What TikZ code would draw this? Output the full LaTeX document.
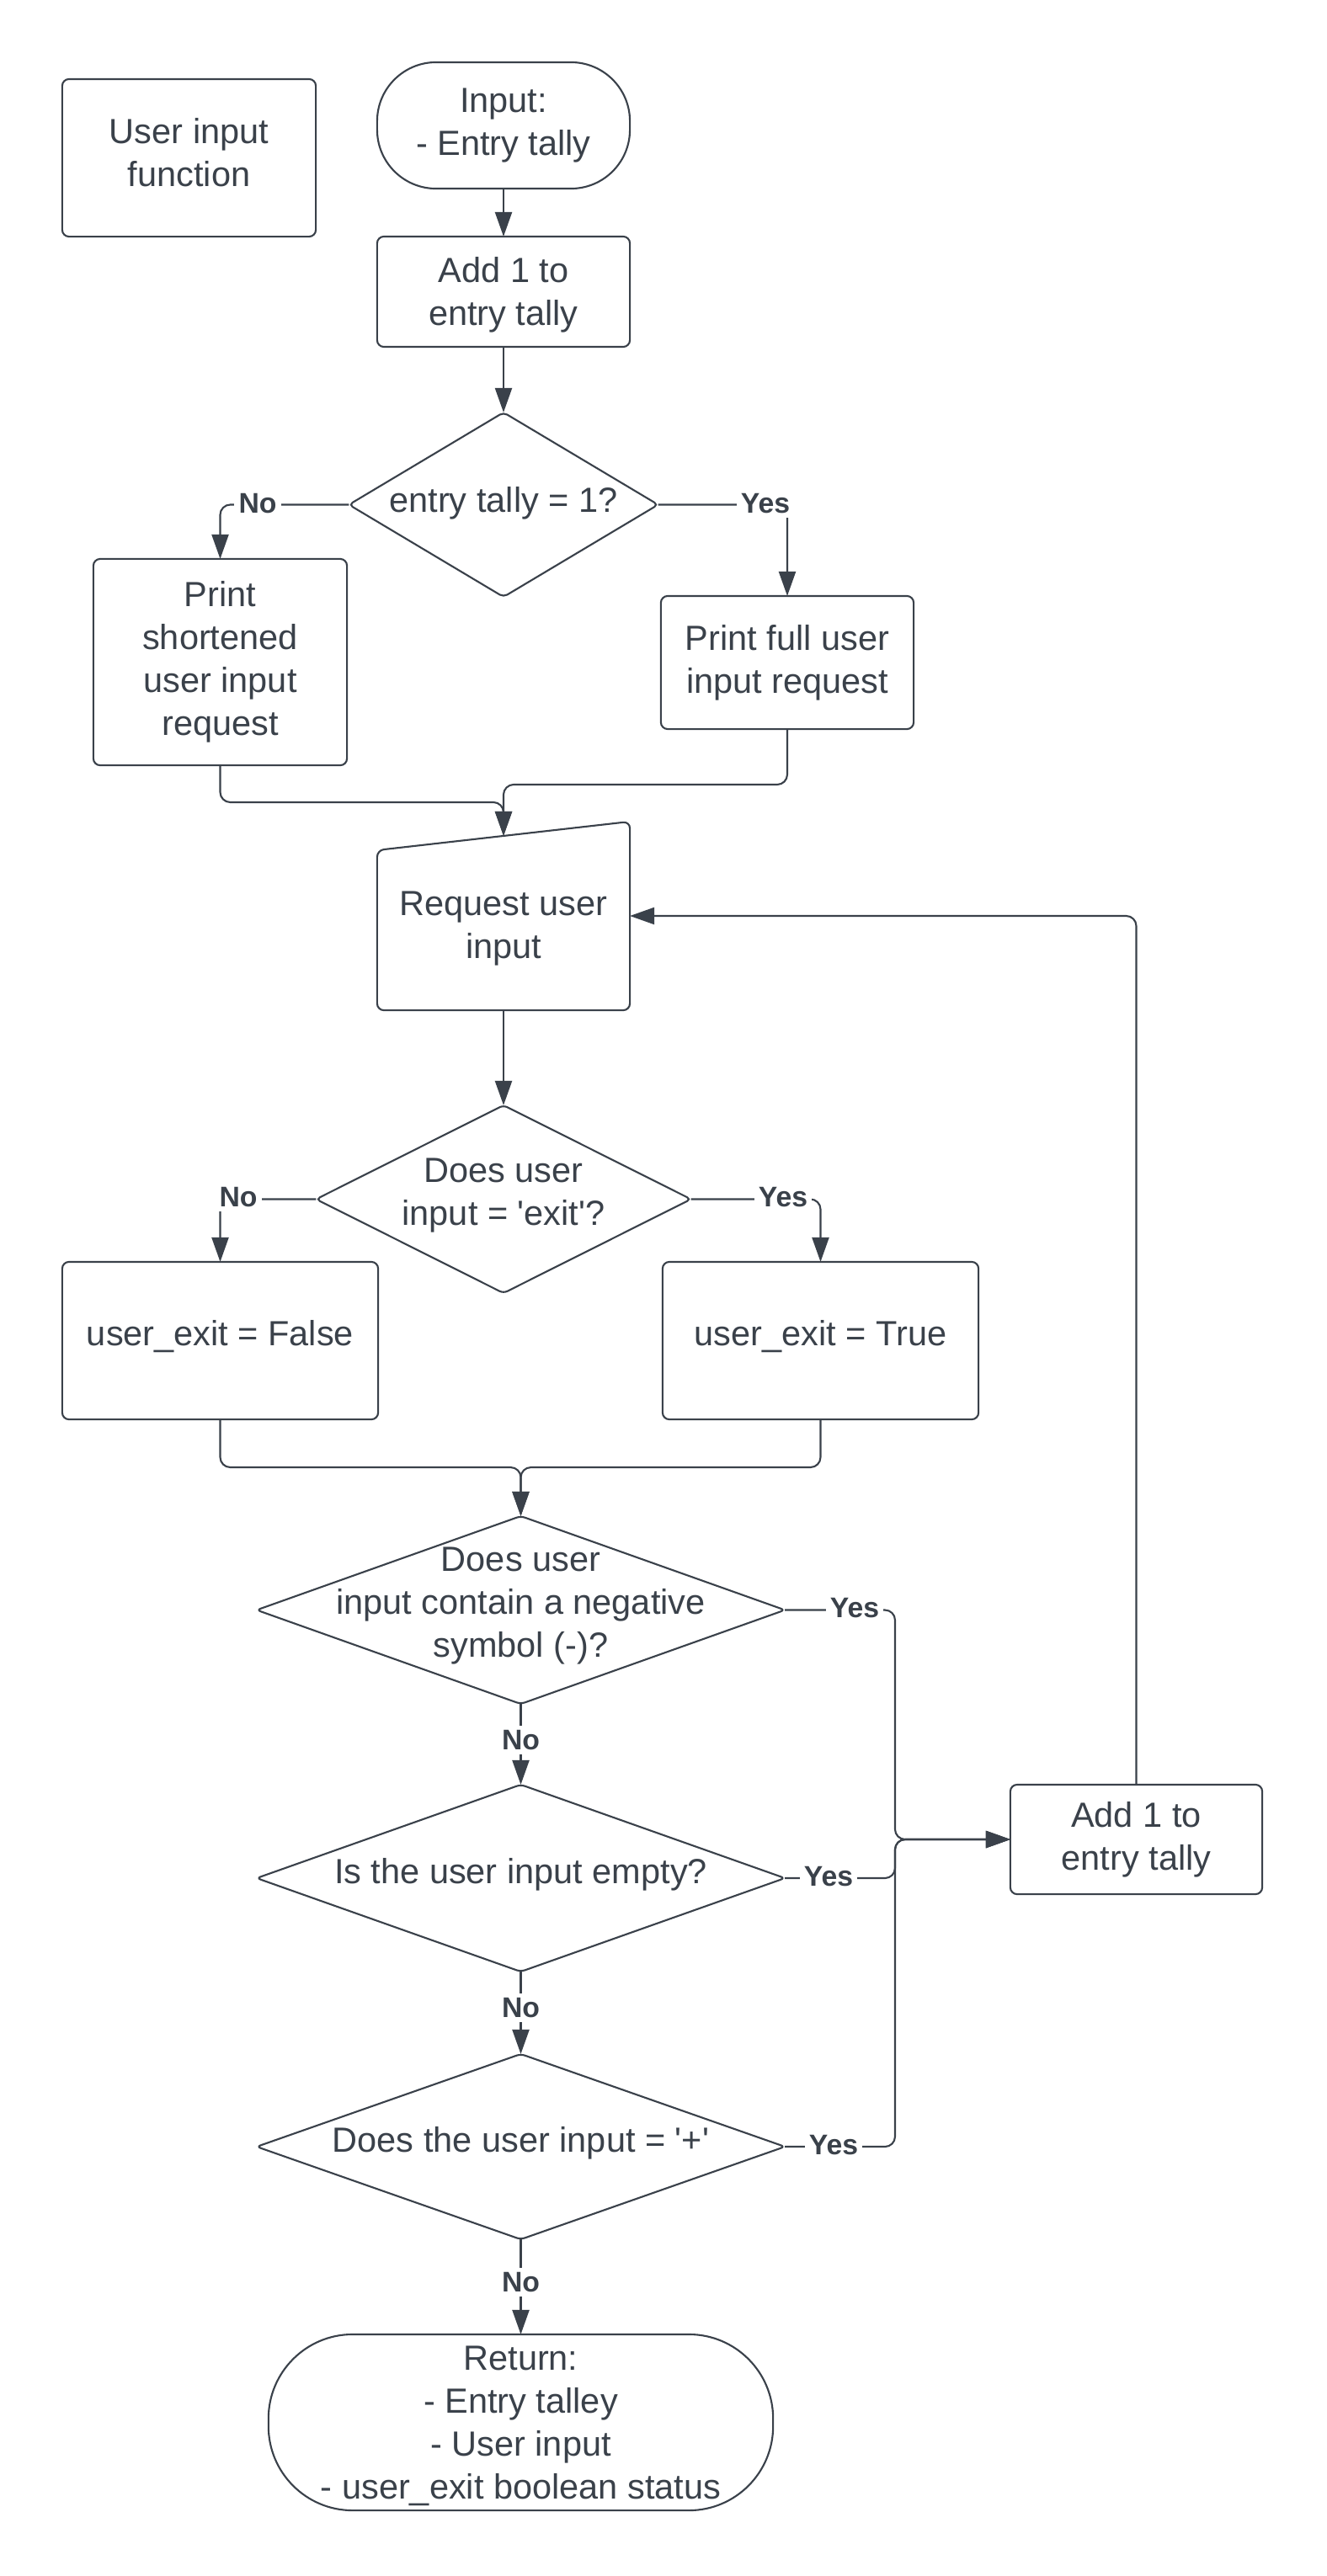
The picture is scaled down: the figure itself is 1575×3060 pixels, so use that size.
\documentclass[tikz,border=0pt]{standalone}
\usepackage{fontspec}
\setmainfont{Liberation Sans}
\usetikzlibrary{arrows.meta,shapes.geometric,calc}
\definecolor{ink}{RGB}{58,65,74}
\begin{document}
\begin{tikzpicture}[x=0.01cm,y=-0.01cm,
  every node/.style={text=ink, font=\fontsize{11.8pt}{14.5pt}\selectfont, align=center, inner sep=0pt, outer sep=0pt},
  box/.style={draw=ink, line width=0.6pt, rectangle, rounded corners=0.08cm},
  term/.style={draw=ink, line width=0.6pt, rectangle},
  dia/.style={draw=ink, line width=0.6pt, diamond, rounded corners=0.05cm},
  conn/.style={draw=ink, line width=0.6pt, rounded corners=0.12cm},
  arr/.style={conn, -{Triangle[length=0.29cm,width=0.2cm]}},
  lbl/.style={fill=white, font=\fontsize{9.6pt}{10pt}\selectfont\bfseries, inner sep=1.5pt}
]
\fill[white] (0,0) rectangle (1575,3060);
\useasboundingbox (0,0) rectangle (1575,3060);

% ---- shapes ----
\node[box, minimum width=3.01cm, minimum height=1.87cm] (title) at (224.5,187.5) {};
\node (ttitle) at (224.5,181) {User input\\function};
\node[term, rounded corners=0.7cm, minimum width=3.0cm, minimum height=1.5cm] (inp) at (598,149) {Input:\\- Entry tally};
\node[box, minimum width=3.0cm, minimum height=1.31cm] (add1) at (598,346.5) {};
\node (tadd1) at (598,350) {Add 1 to\\entry tally};
\node[dia, minimum width=3.67cm, minimum height=2.19cm] (d1) at (598,599.5) {};
\node (t1) at ($(d1)+(0,-2)$) {entry tally = 1?};
\node[box, minimum width=3.01cm, minimum height=2.45cm] (short) at (261.5,786.5) {Print\\shortened\\user input\\request};
\node[box, minimum width=3.0cm, minimum height=1.58cm] (full) at (935,787) {Print full user\\input request};

% manual input step
\node[minimum width=3.0cm, minimum height=2.24cm] (req) at (598,1088) {};
\draw[ink, line width=0.6pt, rounded corners=0.08cm]
  ($(req.south west)!0.5!(req.south east)$) -- (req.south east) -- (req.north east)
  -- ($(req.north west)+(0,34)$) -- (req.south west) -- cycle;
\node (treq) at (598,1103) {Request user\\input};
\coordinate (reqtop) at ($(req.north)+(0,17)$);

\node[dia, minimum width=4.45cm, minimum height=2.23cm] (d2) at (598,1424.5) {};
\node (t2) at ($(d2)+(0,-4)$) {Does user\\input = \textquotesingle{}exit\textquotesingle{}?};
\node[box, minimum width=3.75cm, minimum height=1.87cm] (false) at (261.5,1592.5) {};
\node (tfalse) at (261.5,1588) {user\_exit = False};
\node[box, minimum width=3.75cm, minimum height=1.87cm] (true) at (974.5,1592.5) {};
\node (ttrue) at (974.5,1588) {user\_exit = True};

\node[dia, minimum width=6.27cm, minimum height=2.23cm] (d3) at (618.5,1912.5) {};
\node (t3) at ($(d3)+(0,-5)$) {Does user\\input contain a negative\\symbol (-)?};
\node[dia, minimum width=6.27cm, minimum height=2.22cm] (d4) at (618.5,2231) {};
\node (t4) at ($(d4)+(0,-4)$) {Is the user input empty?};
\node[dia, minimum width=6.27cm, minimum height=2.2cm] (d5) at (618.5,2550) {};
\node (t5) at ($(d5)+(0,-4)$) {Does the user input = \textquotesingle{}+\textquotesingle{}};
\node[term, rounded corners=1.0cm, minimum width=5.99cm, minimum height=2.09cm] (ret) at (618.5,2877.5) {};
\node (tret) at (618.5,2882) {Return:\\- Entry talley\\- User input\\- user\_exit boolean status};
\node[box, minimum width=2.99cm, minimum height=1.30cm] (add2) at (1349.5,2185) {Add 1 to\\entry tally};

% ---- connectors ----
\coordinate (m1) at (598,953);
\coordinate (m2) at (598,932);
\coordinate (m3) at (618.5,1743);
\coordinate (bus) at (1063,2185);

\draw[arr] (inp.south) -- (add1.north);
\draw[arr] (add1.south) -- (d1.north);
\draw[arr] (d1.west) -| (short.north);
\draw[arr] (d1.east) -| (full.north);
\draw[arr] (short.south) |- (m1) -- (reqtop);
\draw[arr] (full.south) |- (m2) -- (reqtop);
\draw[arr] (req.south) -- (d2.north);
\draw[arr] (d2.west) -| (false.north);
\draw[arr] (d2.east) -| (true.north);
\draw[arr] (false.south) |- (m3) -- (d3.north);
\draw[arr] (true.south) |- (m3) -- (d3.north);
\draw[arr] (d3.south) -- (d4.north);
\draw[arr] (d4.south) -- (d5.north);
\draw[arr] (d5.south) -- (ret.north);
\draw[arr] (d3.east) -| (bus) -- (add2.west);
\draw[arr] (d4.east) -| (bus) -- (add2.west);
\draw[arr] (d5.east) -| (bus) -- (add2.west);
\draw[arr] (add2.north) |- (req.east);

% ---- branch labels ----
\node[lbl] (no1) at (306,598) {No};
\node[lbl] (yes1) at (909,598) {Yes};
\node[lbl] (no2) at (283,1422) {No};
\node[lbl] (yes2) at (930,1422) {Yes};
\node[lbl] (yes3) at (1015,1910) {Yes};
\node[lbl] (no3) at (618.5,2067) {No};
\node[lbl] (yes4) at (984,2229) {Yes};
\node[lbl] (no4) at (618.5,2385) {No};
\node[lbl] (yes5) at (990,2548) {Yes};
\node[lbl] (no5) at (618.5,2711) {No};
\end{tikzpicture}
\end{document}
